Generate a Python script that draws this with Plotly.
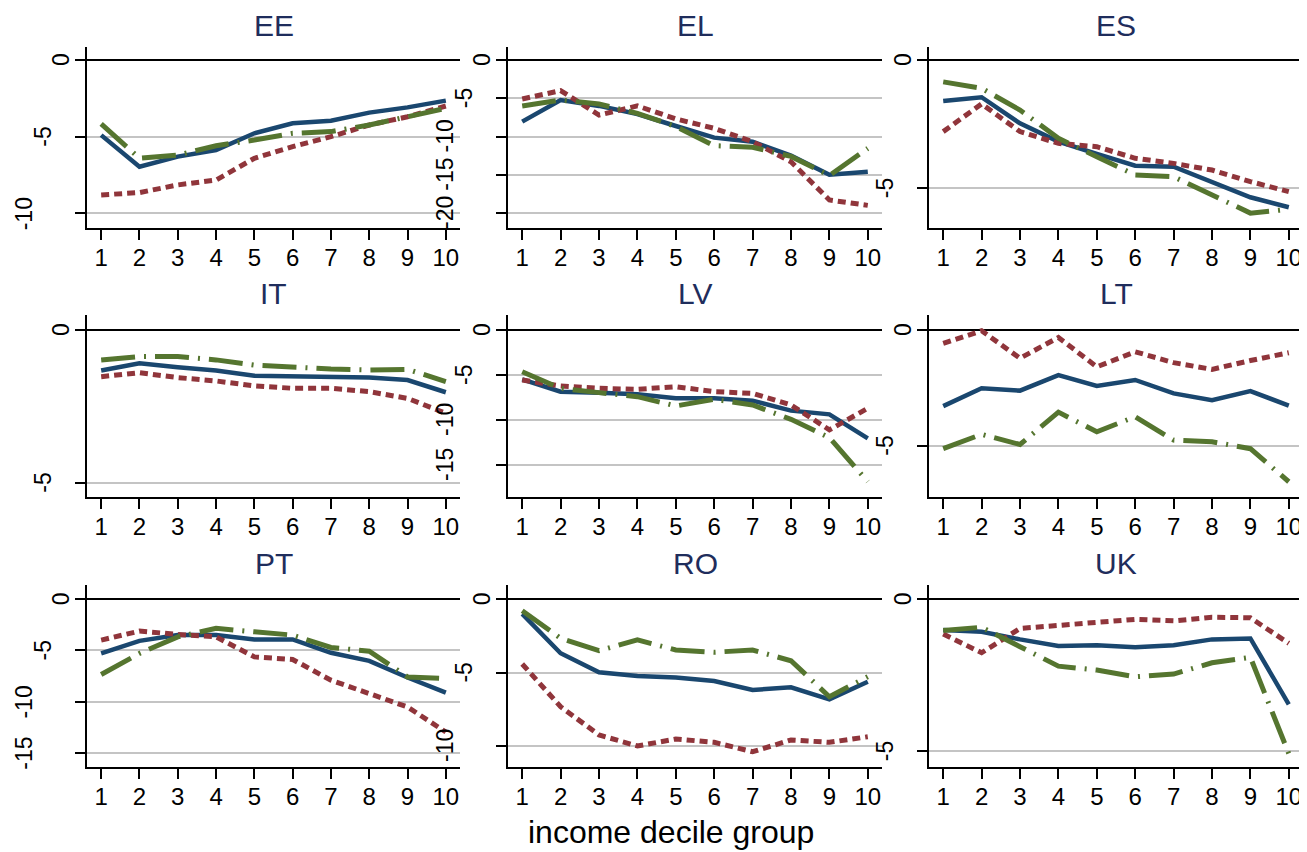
import plotly.graph_objects as go

# page body has an 8px default margin: the figure is sized and shifted to fit the 1307x852 window
OFF = 8
W, H = 1307 - OFF, 852 - OFF

countries = ["EE", "EL", "ES", "IT", "LV", "LT", "PT", "RO", "UK"]
deciles = [1, 2, 3, 4, 5, 6, 7, 8, 9, 10]
x_tick_labels = ["1", "2", "3", "4", "5", "6", "7", "8", "9", "10"]
x_title = "income decile group"

# series values (solid navy, dotted maroon, long-dash-dot green)
ee_solid = [-4.9, -6.96, -6.3, -5.87, -4.78, -4.13, -3.96, -3.43, -3.09, -2.65]
ee_dotted = [-8.8, -8.65, -8.15, -7.83, -6.41, -5.65, -5.0, -4.24, -3.7, -3.0]
ee_dashdot = [-4.17, -6.41, -6.2, -5.59, -5.22, -4.78, -4.67, -4.24, -3.7, -3.15]

el_solid = [-8.06, -5.23, -6.0, -7.06, -8.63, -10.15, -10.68, -12.5, -15.0, -14.6]
el_dotted = [-5.1, -4.0, -7.19, -6.0, -7.7, -8.93, -10.68, -13.3, -18.3, -19.0]
el_dashdot = [-6.0, -5.23, -5.75, -6.97, -8.7, -11.2, -11.4, -12.6, -15.1, -11.55]

es_solid = [-1.6, -1.45, -2.47, -3.18, -3.66, -4.12, -4.16, -4.74, -5.35, -5.74]
es_dotted = [-2.79, -1.71, -2.79, -3.25, -3.38, -3.83, -4.03, -4.29, -4.74, -5.13]
es_dashdot = [-0.85, -1.1, -1.95, -3.05, -3.77, -4.48, -4.55, -5.26, -5.97, -5.82]

it_solid = [-1.33, -1.09, -1.22, -1.33, -1.50, -1.53, -1.55, -1.56, -1.64, -2.04]
it_dotted = [-1.53, -1.40, -1.56, -1.67, -1.83, -1.91, -1.91, -2.02, -2.24, -2.73]
it_dashdot = [-0.98, -0.87, -0.87, -0.98, -1.15, -1.22, -1.28, -1.31, -1.29, -1.69]

lv_solid = [-5.48, -6.85, -6.96, -7.15, -7.59, -7.59, -7.85, -8.96, -9.37, -12.04]
lv_dotted = [-5.56, -6.22, -6.48, -6.59, -6.30, -6.85, -7.04, -8.33, -11.1, -8.7]
lv_dashdot = [-4.63, -6.48, -6.96, -7.41, -8.44, -7.70, -8.33, -9.93, -11.96, -16.85]

lt_solid = [-3.29, -2.52, -2.62, -1.95, -2.42, -2.16, -2.74, -3.03, -2.64, -3.27]
lt_dotted = [-0.58, -0.03, -1.22, -0.32, -1.59, -0.94, -1.41, -1.70, -1.32, -0.98]
lt_dashdot = [-5.13, -4.51, -4.95, -3.55, -4.40, -3.75, -4.76, -4.83, -5.13, -6.56]

pt_solid = [-5.29, -4.06, -3.5, -3.5, -3.92, -3.92, -5.23, -6.02, -7.65, -9.12]
pt_dotted = [-3.99, -3.11, -3.43, -3.67, -5.63, -5.88, -7.91, -9.28, -10.53, -12.98]
pt_dashdot = [-7.35, -5.29, -3.67, -2.84, -3.18, -3.5, -4.71, -5.07, -7.59, -7.75]

ro_solid = [-1.0, -3.68, -4.98, -5.23, -5.34, -5.57, -6.18, -6.0, -6.82, -5.62]
ro_dotted = [-4.41, -7.32, -9.25, -10.0, -9.52, -9.75, -10.39, -9.59, -9.75, -9.37]
ro_dashdot = [-0.78, -2.66, -3.5, -2.77, -3.46, -3.61, -3.46, -4.19, -6.64, -5.28]

uk_solid = [-1.01, -1.07, -1.32, -1.54, -1.51, -1.58, -1.51, -1.32, -1.29, -3.46]
uk_dotted = [-1.14, -1.76, -0.96, -0.85, -0.74, -0.66, -0.71, -0.59, -0.61, -1.45]
uk_dashdot = [-1.03, -0.92, -1.56, -2.2, -2.33, -2.55, -2.46, -2.09, -1.91, -5.08]

# y tick values per panel
ee_ticks = [0, -5, -10]
el_ticks = [0, -5, -10, -15, -20]
es_ticks = [0, -5]
it_ticks = [0, -5]
lv_ticks = [0, -5, -10, -15]
lt_ticks = [0, -5]
pt_ticks = [0, -5, -10, -15]
ro_ticks = [0, -5, -10]
uk_ticks = [0, -5]

panels = [
    ("EE", ee_solid, ee_dotted, ee_dashdot, ee_ticks, [-10.96, 0.85]),
    ("EL", el_solid, el_dotted, el_dashdot, el_ticks, [-21.96, 1.70]),
    ("ES", es_solid, es_dotted, es_dashdot, es_ticks, [-6.55, 0.51]),
    ("IT", it_solid, it_dotted, it_dashdot, it_ticks, [-5.47, 0.49]),
    ("LV", lv_solid, lv_dotted, lv_dashdot, lv_ticks, [-18.56, 1.67]),
    ("LT", lt_solid, lt_dotted, lt_dashdot, lt_ticks, [-7.22, 0.65]),
    ("PT", pt_solid, pt_dotted, pt_dashdot, pt_ticks, [-16.4, 1.4]),
    ("RO", ro_solid, ro_dotted, ro_dashdot, ro_ticks, [-11.43, 0.97]),
    ("UK", uk_solid, uk_dotted, uk_dashdot, uk_ticks, [-5.52, 0.47]),
]

# layout in window pixels
col_px = [(87, 460), (508, 882), (929, 1303)]
row_px = [(47, 228), (315, 497), (585, 767)]
title_y_px = [25, 293, 563]

def px_x(p):
    return (p - OFF) / W

def px_y(p):
    return 1 - (p - OFF) / H

NAVY = "#1a476f"
MAROON = "#90353b"
GREEN = "#55752f"
FONT = "Liberation Sans, Arial, sans-serif"

fig = go.Figure()
annotations = []
layout = dict(
    width=W, height=H,
    margin=dict(l=0, r=0, t=0, b=0),
    paper_bgcolor="white", plot_bgcolor="white",
    showlegend=False,
    font=dict(family=FONT, color="black", size=24),
)

def label_offset(txt):
    return {1: 26, 2: 44}.get(len(txt), 63)

for i, (name, s_solid, s_dotted, s_dashdot, yticks, yrange) in enumerate(panels):
    r, c = divmod(i, 3)
    k = "" if i == 0 else str(i + 1)
    xa, ya = "x" + k, "y" + k
    x0, x1 = col_px[c]
    y0, y1 = row_px[r]
    layout["xaxis" + k] = dict(
        domain=[px_x(x0), px_x(x1)], anchor=ya, range=[0.63, 10.37],
        tickmode="array", tickvals=deciles, ticktext=x_tick_labels,
        ticks="outside", ticklen=10, tickwidth=2, tickcolor="black",
        showline=True, linecolor="black", linewidth=2,
        showgrid=False, zeroline=False,
        tickfont=dict(size=24, color="black", family=FONT),
        ticklabelstandoff=-3,
    )
    layout["yaxis" + k] = dict(
        domain=[px_y(y1), px_y(y0)], anchor=xa, range=yrange,
        tickmode="array", tickvals=yticks, showticklabels=False,
        ticks="outside", ticklen=10, tickwidth=2, tickcolor="black",
        showline=True, linecolor="black", linewidth=2,
        showgrid=True, gridcolor="#c4c4c4", gridwidth=1.6,
        zeroline=True, zerolinecolor="black", zerolinewidth=2,
    )
    fig.add_trace(go.Scatter(x=deciles, y=s_solid, mode="lines", xaxis=xa, yaxis=ya,
                             line=dict(color=NAVY, width=4.5)))
    fig.add_trace(go.Scatter(x=deciles, y=s_dotted, mode="lines", xaxis=xa, yaxis=ya,
                             line=dict(color=MAROON, width=5, dash="8px,5px")))
    fig.add_trace(go.Scatter(x=deciles, y=s_dashdot, mode="lines", xaxis=xa, yaxis=ya,
                             line=dict(color=GREEN, width=5, dash="34px,9px,2px,9px")))
    # panel title
    annotations.append(dict(
        text=name, xref="paper", yref="paper",
        x=px_x((x0 + x1) / 2), y=px_y(title_y_px[r]),
        xanchor="center", yanchor="middle", showarrow=False,
        font=dict(size=30, color="#1f2d5c", family=FONT),
    ))
    # rotated y tick labels (Stata-style placement)
    for v in yticks:
        txt = "-" + str(abs(v)) if v < 0 else str(v)
        annotations.append(dict(
            text=txt, xref="paper", yref=ya,
            x=px_x(x0 - label_offset(txt)), y=v,
            xanchor="center", yanchor="middle", textangle=-90, showarrow=False,
            font=dict(size=23, color="black", family=FONT),
        ))

annotations.append(dict(
    text=x_title, xref="paper", yref="paper",
    x=px_x(671), y=px_y(832), xanchor="center", yanchor="middle", showarrow=False,
    font=dict(size=32, color="black", family=FONT),
))
layout["annotations"] = annotations
fig.update_layout(**layout)
fig.write_html("out.html")
